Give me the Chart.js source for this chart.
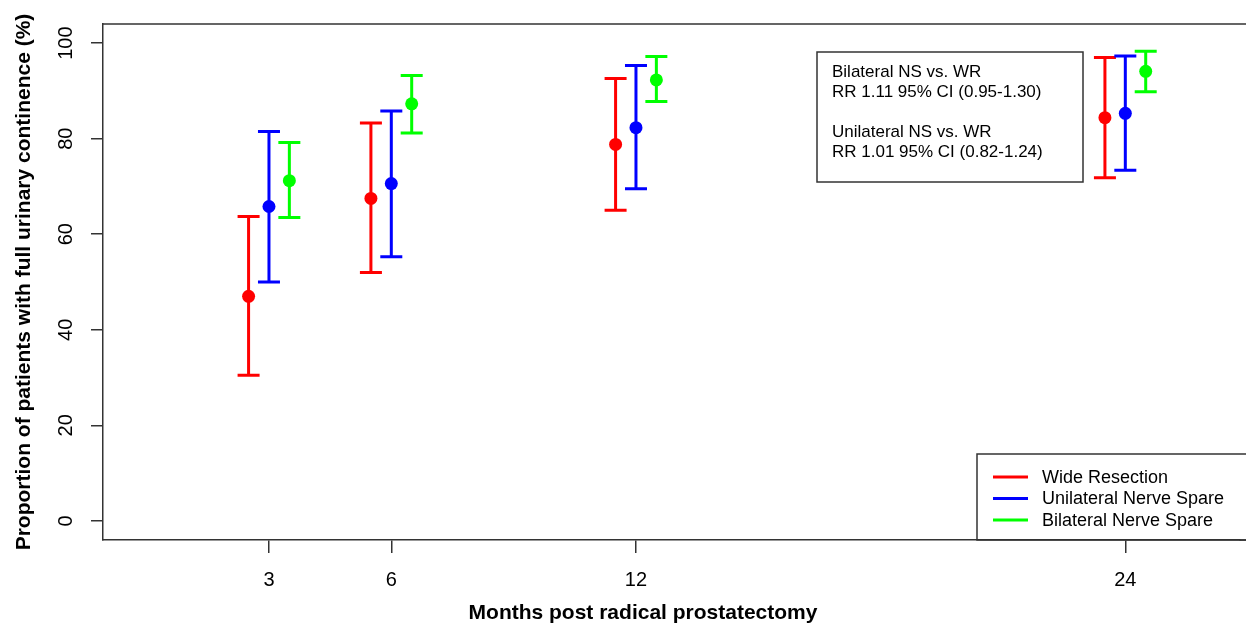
<!DOCTYPE html>
<html lang="en">
<head>
<meta charset="UTF-8">
<title>Urinary continence after radical prostatectomy</title>
<style>
    html, body { margin: 0; padding: 0; background: #fff; }
    #wrap { width: 1246px; height: 637px; position: relative; }
</style>
<script src="https://cdn.jsdelivr.net/npm/chart.js"></script>
</head>
<body>
<div id="wrap"><canvas id="chart"></canvas></div>
<script>
// months after surgery and y axis ticks
const months = [3, 6, 12, 24];
const yTicks = [0, 20, 40, 60, 80, 100];

// proportion continent (%) with 95% CI, per group
const groupNames = ['Wide Resection', 'Unilateral Nerve Spare', 'Bilateral Nerve Spare'];
const wrMean = [47.0, 67.5, 78.8, 84.4];
const wrLow  = [30.5, 52.0, 65.0, 71.8];
const wrHigh = [63.7, 83.3, 92.6, 97.0];
const unsMean = [65.8, 70.6, 82.3, 85.3];
const unsLow  = [50.0, 55.3, 69.5, 73.4];
const unsHigh = [81.5, 85.8, 95.3, 97.3];
const bnsMean = [71.2, 87.3, 92.3, 94.1];
const bnsLow  = [63.5, 81.2, 87.8, 89.8];
const bnsHigh = [79.2, 93.2, 97.2, 98.3];

const statsLines = [
    'Bilateral NS vs. WR',
    'RR 1.11 95% CI (0.95-1.30)',
    '',
    'Unilateral NS vs. WR',
    'RR 1.01 95% CI (0.82-1.24)'
];

const FONT = '"Liberation Sans", Arial, Helvetica, sans-serif';
const AXIS_COLOR = '#333';

function makeSeries(label, color, shift, mean, low, high) {
    return {
        label: label,
        data: months.map((m, i) => ({ x: m + shift, y: mean[i], lo: low[i], hi: high[i] })),
        backgroundColor: color,
        borderColor: color,
        borderWidth: 0,
        pointRadius: 6.5,
        pointHoverRadius: 6.5,
        showLine: false
    };
}

// vertical CI bars with caps, drawn under the points
const errorBars = {
    id: 'errorBars',
    beforeDatasetsDraw(chart) {
        const { ctx, scales: { x, y } } = chart;
        ctx.save();
        ctx.lineWidth = 3;
        chart.data.datasets.forEach(ds => {
            ctx.strokeStyle = ds.borderColor;
            ds.data.forEach(d => {
                const px = x.getPixelForValue(d.x);
                const top = y.getPixelForValue(d.hi);
                const bot = y.getPixelForValue(d.lo);
                ctx.beginPath();
                ctx.moveTo(px, top); ctx.lineTo(px, bot);
                ctx.moveTo(px - 11, top); ctx.lineTo(px + 11, top);
                ctx.moveTo(px - 11, bot); ctx.lineTo(px + 11, bot);
                ctx.stroke();
            });
        });
        ctx.restore();
    }
};

// plot frame top, stats box, legend and x title
const extras = {
    id: 'extras',
    afterDraw(chart) {
        const { ctx, chartArea: ca } = chart;
        ctx.save();
        ctx.strokeStyle = AXIS_COLOR;
        ctx.lineWidth = 1.5;
        ctx.beginPath();
        ctx.moveTo(ca.left, ca.top);
        ctx.lineTo(chart.width + 2, ca.top);
        ctx.moveTo(ca.right, ca.bottom);
        ctx.lineTo(chart.width + 2, ca.bottom);
        ctx.stroke();

        // stats box
        ctx.strokeRect(817, 52, 266, 130);
        ctx.fillStyle = '#000';
        ctx.font = '17px ' + FONT;
        ctx.textAlign = 'left';
        ctx.textBaseline = 'alphabetic';
        statsLines.forEach((t, i) => ctx.fillText(t, 832, 77 + i * 20));

        // legend
        ctx.strokeRect(977, 454, 400, ca.bottom - 454);
        ctx.font = '18px ' + FONT;
        ctx.textBaseline = 'middle';
        chart.data.datasets.forEach((ds, i) => {
            const yy = 477 + i * 21.5;
            ctx.strokeStyle = ds.borderColor;
            ctx.lineWidth = 3;
            ctx.beginPath();
            ctx.moveTo(993, yy); ctx.lineTo(1028, yy);
            ctx.stroke();
            ctx.fillText(ds.label, 1042, yy + 1);
        });

        // x axis title
        ctx.font = 'bold 21px ' + FONT;
        ctx.textAlign = 'center';
        ctx.textBaseline = 'alphabetic';
        ctx.fillText('Months post radical prostatectomy', 643, 619);
        ctx.restore();
    }
};

new Chart(document.getElementById('chart'), {
    type: 'scatter',
    data: {
        datasets: [
            makeSeries(groupNames[0], '#ff0000', -0.5, wrMean, wrLow, wrHigh),
            makeSeries(groupNames[1], '#0000ff', 0, unsMean, unsLow, unsHigh),
            makeSeries(groupNames[2], '#00ff00', 0.5, bnsMean, bnsLow, bnsHigh)
        ]
    },
    options: {
        responsive: true,
        maintainAspectRatio: false,
        animation: false,
        layout: { padding: { top: 24, left: 0, right: 0, bottom: 0 } },
        plugins: {
            legend: { display: false },
            tooltip: { enabled: false }
        },
        scales: {
            x: {
                type: 'linear',
                min: -1.07,
                max: 26.8,
                afterBuildTicks: s => { s.ticks = months.map(v => ({ value: v })); },
                afterFit: s => { s.height = 97; },
                grid: { display: true, drawOnChartArea: false, drawTicks: true, tickLength: 13, color: AXIS_COLOR, lineWidth: 1.5 },
                border: { display: true, color: AXIS_COLOR, width: 1.5 },
                ticks: { color: '#000', padding: 15, maxRotation: 0, font: { family: FONT, size: 20 } }
            },
            y: {
                type: 'linear',
                min: -4,
                max: 104,
                afterBuildTicks: s => { s.ticks = yTicks.map(v => ({ value: v })); },
                afterFit: s => { s.width = 103; },
                grid: { display: true, drawOnChartArea: false, drawTicks: true, tickLength: 12, color: AXIS_COLOR, lineWidth: 1.5 },
                border: { display: true, color: AXIS_COLOR, width: 1.5 },
                ticks: { color: '#000', minRotation: 90, maxRotation: 90, crossAlign: 'center', padding: 8, font: { family: FONT, size: 20 } },
                title: {
                    display: true,
                    text: 'Proportion of patients with full urinary continence (%)',
                    color: '#000',
                    font: { family: FONT, size: 21, weight: 'bold' },
                    padding: { top: 12, bottom: 0 }
                }
            }
        }
    },
    plugins: [errorBars, extras]
});
</script>
</body>
</html>
